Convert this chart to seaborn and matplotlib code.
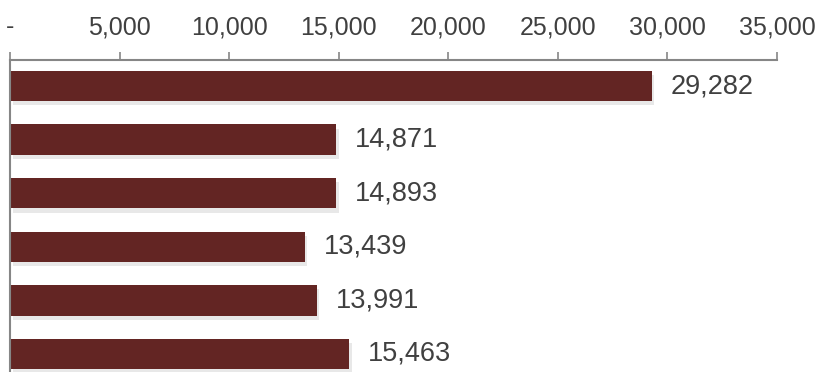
import numpy as np
import pandas as pd
import matplotlib
matplotlib.use('Agg')
import matplotlib.pyplot as plt
import matplotlib.patheffects as pe
from matplotlib.ticker import FuncFormatter
import seaborn as sns

# dane
kategorie = ['A', 'B', 'C', 'D', 'E', 'F']
wartosci = [29282, 14871, 14893, 13439, 13991, 15463]
etykiety = ['29,282', '14,871', '14,893', '13,439', '13,991', '15,463']

sns.set_style('white')
plt.rcParams['font.family'] = ['Liberation Sans', 'DejaVu Sans']

df = pd.DataFrame({'kat': kategorie, 'val': wartosci})

fig = plt.figure(figsize=(8.2, 3.72), dpi=100)
ax = fig.add_axes([10/820, 0, 767/820, 312/372])

sns.barplot(data=df, x='val', y='kat', color='#632523', saturation=1,
            width=0.57, ax=ax, orient='h', linewidth=0, edgecolor='none')

# lekki cien pod slupkami
for p in ax.patches:
    p.set_path_effects([pe.SimplePatchShadow(offset=(2, -3), shadow_rgbFace='#000000', alpha=0.09),
                        pe.Normal()])

for i, (v, t) in enumerate(zip(wartosci, etykiety)):
    ax.annotate(t, xy=(v, i), xytext=(19, 0), textcoords='offset pixels',
                va='center', ha='left', fontsize=19.5, color='#404040')

ax.set_xlim(0, 35000)
ax.set_ylim(5.336, -0.486)
ax.xaxis.tick_top()
ax.xaxis.set_label_position('top')
ax.set_xticks(np.arange(0, 35001, 5000))
ax.xaxis.set_major_formatter(FuncFormatter(lambda x, pos: '-' if x == 0 else f'{int(x):,}'))
ax.tick_params(axis='x', which='major', top=True, bottom=False, direction='out',
               length=6, width=1.2, color='#868686', labelsize=18, labelcolor='#404040', pad=9)
ax.set_yticks([])
ax.set_xlabel('')
ax.set_ylabel('')

for s in ['right', 'bottom']:
    ax.spines[s].set_visible(False)
for s in ['top', 'left']:
    ax.spines[s].set_color('#868686')
    ax.spines[s].set_linewidth(1.5)

fig.savefig('out.png', dpi=100)
